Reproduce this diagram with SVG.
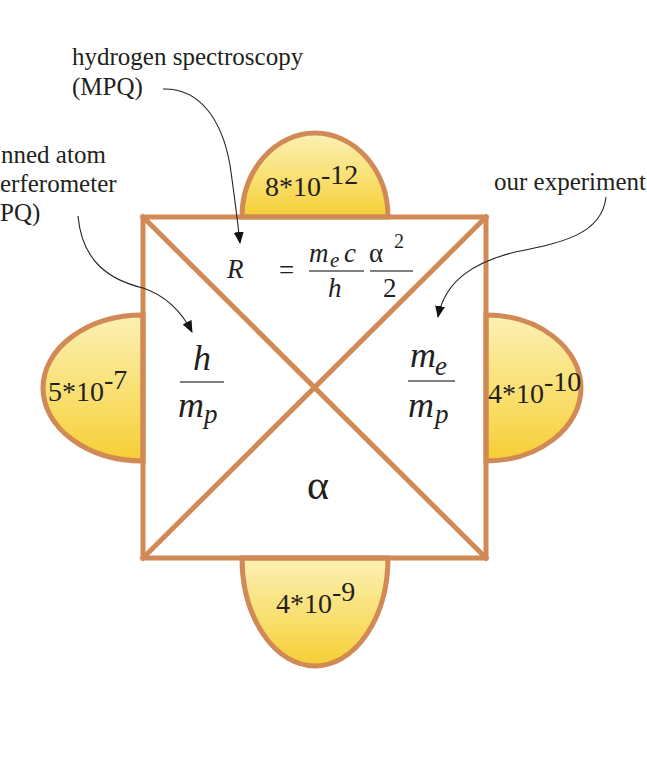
<svg xmlns="http://www.w3.org/2000/svg" width="647" height="773" viewBox="0 0 647 773">
<style>
.lobe{stroke:#D18A55;stroke-width:5;fill:url(#yel)}
.edge{stroke:#D18A55;stroke-width:5;fill:none;stroke-linecap:square}
.ann{font-family:"Liberation Serif","Times New Roman",serif;font-size:25px;fill:#231F20}
.val{font-family:"Liberation Serif","Times New Roman",serif;font-size:28px;fill:#231F20}
.mi{font-family:"Liberation Serif","Times New Roman",serif;font-style:italic;fill:#231F20}
.mn{font-family:"Liberation Serif","Times New Roman",serif;fill:#231F20}
.bar{stroke:#555;stroke-width:1.3}
.conn{fill:none;stroke:#222;stroke-width:1.1}
</style>
<defs>
<linearGradient id="yel" x1="0" y1="0" x2="0" y2="1">
<stop offset="0" stop-color="#FCF0B4"/>
<stop offset="0.5" stop-color="#F9E176"/>
<stop offset="1" stop-color="#F6CE34"/>
</linearGradient>
<marker id="ah" viewBox="0 0 12 10" refX="11" refY="5" markerWidth="12" markerHeight="10" markerUnits="userSpaceOnUse" orient="auto">
<path d="M0,0 L12,5 L0,10 Z" fill="#111"/>
</marker>
</defs>
<rect width="647" height="773" fill="#fff"/>

<g id="lobe-top">
<path class="lobe" d="M242,217 A73,84 0 0 1 388,217 Z"/>
<text class="val" x="265" y="196">8*10<tspan dy="-12">-12</tspan></text>
</g>
<g id="lobe-bottom">
<path class="lobe" d="M242,558 A73,108 0 0 0 388,558 Z"/>
<text class="val" x="276" y="613">4*10<tspan dy="-12">-9</tspan></text>
</g>
<g id="lobe-left">
<path class="lobe" d="M143,315 A100,73 0 0 0 143,461 Z"/>
<text class="val" x="48" y="401">5*10<tspan dy="-12">-7</tspan></text>
</g>
<g id="lobe-right">
<path class="lobe" d="M486,315 A95,73 0 0 1 486,461 Z"/>
<text class="val" x="488" y="403">4*10<tspan dy="-12">-10</tspan></text>
</g>

<g id="square">
<rect x="143" y="217" width="343" height="341" fill="#fff" class="edge"/>
<line class="edge" x1="143" y1="217" x2="486" y2="558"/>
<line class="edge" x1="486" y1="217" x2="143" y2="558"/>
</g>

<g id="rydberg">
<text class="mi" x="227" y="278" font-size="27">R</text>
<text class="mn" x="279" y="279" font-size="27">=</text>
<text class="mi" x="309" y="262" font-size="27">m</text>
<text class="mi" x="330" y="267" font-size="21">e</text>
<text class="mi" x="344" y="262" font-size="27">c</text>
<line class="bar" x1="309" y1="271" x2="364" y2="271"/>
<text class="mi" x="328" y="297" font-size="27">h</text>
<text class="mn" x="369" y="262" font-size="27">α</text>
<text class="mn" x="394" y="248" font-size="20">2</text>
<line class="bar" x1="370" y1="271" x2="413" y2="271"/>
<text class="mn" x="383" y="297" font-size="27">2</text>
</g>

<g id="h-over-mp">
<text class="mi" x="193" y="370" font-size="36">h</text>
<line class="bar" x1="180" y1="382" x2="224" y2="382"/>
<text class="mi" x="178" y="417" font-size="36">m</text>
<text class="mi" x="204" y="423" font-size="27">p</text>
</g>

<g id="me-over-mp">
<text class="mi" x="410" y="367" font-size="36">m</text>
<text class="mi" x="435" y="375" font-size="27">e</text>
<line class="bar" x1="408" y1="381" x2="455" y2="381"/>
<text class="mi" x="408" y="417" font-size="36">m</text>
<text class="mi" x="435" y="423" font-size="27">p</text>
</g>

<g id="alpha">
<text class="mn" x="318" y="499" font-size="42" text-anchor="middle">α</text>
</g>

<g id="label-hydrogen">
<text class="ann" x="72" y="65">hydrogen spectroscopy</text>
<text class="ann" x="72" y="95">(MPQ)</text>
</g>
<g id="label-atom">
<text class="ann" x="1" y="163">nned atom</text>
<text class="ann" x="0" y="192">erferometer</text>
<text class="ann" x="0" y="221">PQ)</text>
</g>
<g id="label-ours">
<text class="ann" x="494" y="190">our experiment</text>
</g>

<g id="connectors">
<path class="conn" marker-end="url(#ah)" d="M163,89 C200,88 222,120 230,165 C235,200 238,225 240,243"/>
<path class="conn" marker-end="url(#ah)" d="M78,216 C82,262 110,280 143,288 C165,295 182,312 192,332"/>
<path class="conn" marker-end="url(#ah)" d="M606,197 C602,235 560,243 515,252 C475,262 445,280 438,317"/>
</g>
</svg>
